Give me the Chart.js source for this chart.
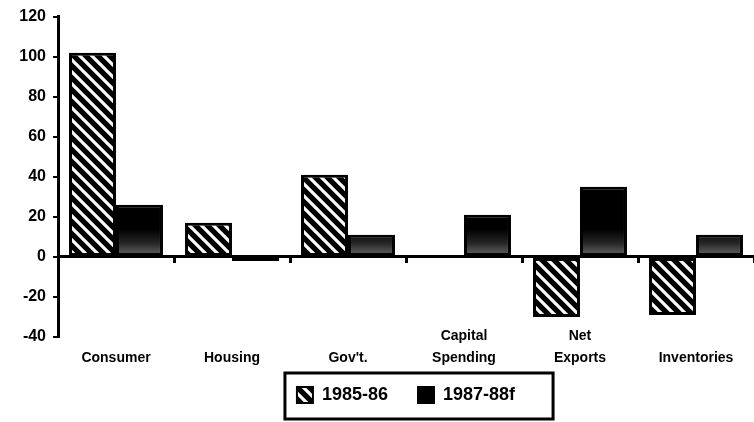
<!DOCTYPE html>
<html>
<head>
<meta charset="utf-8">
<script src="https://cdn.jsdelivr.net/npm/chart.js@4/dist/chart.umd.min.js"></script>
<style>
  html, body { margin: 0; padding: 0; background: #fff; }
  #c { display: block; }
</style>
</head>
<body>
<canvas id="c" width="754" height="422"></canvas>
<script>
// GDP growth contributions by component (billions of dollars)
const categories = [['', 'Consumer'], ['', 'Housing'], ['', "Gov't."], ['Capital', 'Spending'], ['Net', 'Exports'], ['', 'Inventories']];
const seriesNames = ['1985-86', '1987-88f'];
const values1985 = [102, 17, 41, 0, -30, -29];
const values1987 = [26, -2, 11, 21, 35, 11];
const yTicks = [-40, -20, 0, 20, 40, 60, 80, 100, 120];

const canvas = document.getElementById('c');
const ctx2d = canvas.getContext('2d');

// diagonal white stripes on black
function makeHatch() {
  const s = 12;
  const p = document.createElement('canvas');
  p.width = s; p.height = s;
  const g = p.getContext('2d');
  g.fillStyle = '#000';
  g.fillRect(0, 0, s, s);
  g.strokeStyle = '#fff';
  g.lineWidth = 3.2;
  g.beginPath();
  for (const o of [-s, 0, s]) { g.moveTo(o - 3, -3); g.lineTo(o + s + 3, s + 3); }
  g.stroke();
  return ctx2d.createPattern(p, 'repeat');
}
const hatch = makeHatch();

// dark fill that lightens toward the zero line
function darkFill(context) {
  const chart = context.chart;
  if (!chart.chartArea || !chart.scales.y) return '#000';
  const y = chart.scales.y;
  const g = chart.ctx.createLinearGradient(0, y.getPixelForValue(0), 0, y.getPixelForValue(20));
  g.addColorStop(0, '#6a6a6a');
  g.addColorStop(0.35, '#252525');
  g.addColorStop(0.7, '#000');
  g.addColorStop(1, '#000');
  return g;
}

// legend centred over the plot area, with a frame around its entries
const legendFrame = {
  id: 'legendFrame',
  afterLayout(chart) {
    if (chart.legend) chart.legend.left = chart.chartArea.left;
  },
  afterDraw(chart) {
    const hb = chart.legend && chart.legend.legendHitBoxes;
    if (!hb || !hb.length) return;
    const left = Math.min(...hb.map(h => h.left)) - 12;
    const right = Math.max(...hb.map(h => h.left + h.width)) + 38;
    const top = hb[0].top - 13;
    const bottom = hb[0].top + hb[0].height + 15;
    const c = chart.ctx;
    c.save();
    c.strokeStyle = '#000';
    c.lineWidth = 3;
    c.strokeRect(left, top, right - left, bottom - top);
    c.restore();
  }
};

const tickFont = { family: '"Liberation Sans", Arial, sans-serif', size: 16, weight: 'bold' };
const catFont = { family: '"Liberation Sans", Arial, sans-serif', size: 14, weight: 'bold', lineHeight: 22 / 14 };

new Chart(canvas, {
  type: 'bar',
  data: {
    labels: categories,
    datasets: [
      {
        label: seriesNames[0],
        data: values1985,
        backgroundColor: hatch,
        borderColor: '#000',
        borderWidth: 3,
        borderSkipped: false
      },
      {
        label: seriesNames[1],
        data: values1987,
        backgroundColor: darkFill,
        borderColor: '#000',
        borderWidth: 3,
        borderSkipped: false
      }
    ]
  },
  options: {
    responsive: false,
    animation: false,
    devicePixelRatio: 1,
    layout: { padding: { left: 0, right: 0, top: 10, bottom: 8 } },
    datasets: { bar: { categoryPercentage: 0.81, barPercentage: 1.0 } },
    scales: {
      x: {
        type: 'category',
        position: 'bottom',
        offset: true,
        grid: { display: false, drawTicks: false },
        border: { display: false },
        ticks: { color: '#000', font: catFont, mirror: true, padding: -10, maxRotation: 0, autoSkip: false },
        afterFit(scale) { scale.height = 19; }
      },
      x2: {
        type: 'category',
        position: { y: 0 },
        offset: true,
        grid: { display: true, offset: true, drawOnChartArea: false, drawTicks: true, tickLength: 5, lineWidth: 3, color: '#000' },
        border: { display: true, color: '#000', width: 3 },
        ticks: { display: false }
      },
      y: {
        type: 'linear',
        position: 'left',
        min: yTicks[0],
        max: yTicks[yTicks.length - 1],
        afterBuildTicks(scale) { scale.ticks = yTicks.map(v => ({ value: v })); },
        grid: { display: true, drawOnChartArea: false, drawTicks: true, tickLength: 5, lineWidth: 2, color: '#000' },
        border: { display: true, color: '#000', width: 3 },
        ticks: { color: '#000', font: tickFont, padding: 7 },
        afterFit(scale) { scale.width = 58; }
      }
    },
    plugins: {
      legend: {
        display: true,
        position: 'bottom',
        labels: {
          color: '#000',
          font: { family: '"Liberation Sans", Arial, sans-serif', size: 18, weight: 'bold' },
          boxWidth: 16,
          boxHeight: 16,
          padding: 30,
          generateLabels(chart) {
            const items = Chart.defaults.plugins.legend.labels.generateLabels(chart);
            items.forEach((it, i) => {
              it.strokeStyle = '#000';
              it.lineWidth = 2;
              it.fontColor = '#000';
              if (i === 1) it.fillStyle = '#000';
            });
            return items;
          }
        }
      },
      tooltip: { enabled: false },
      title: { display: false }
    }
  },
  plugins: [legendFrame]
});
</script>
</body>
</html>
